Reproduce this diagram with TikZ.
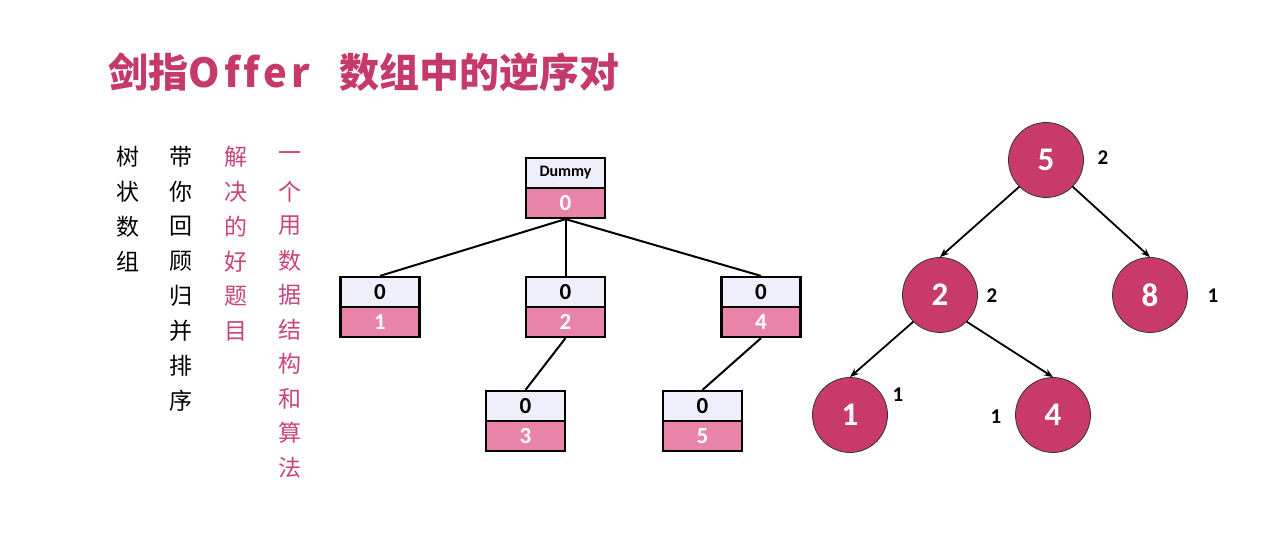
\documentclass[tikz,border=0pt]{standalone}
\usepackage{fontspec}
\setmainfont{Carlito}
\newfontfamily\cjk{Noto Sans CJK SC}
\newfontfamily\cjkspaced[LetterSpace=10,Ligatures={NoCommon,NoRequired}]{Noto Sans CJK SC}
\usetikzlibrary{arrows.meta}
\definecolor{titlepink}{HTML}{C63A6B}
\definecolor{colpink}{HTML}{C9447A}
\definecolor{boxtop}{HTML}{EFEEFB}
\definecolor{boxbot}{HTML}{E984A9}
\definecolor{circfill}{HTML}{C83A6A}
\tikzset{
  topcell/.style={draw=black, line width=2.2pt, fill=boxtop, minimum width=79pt, minimum height=30pt, inner sep=0pt, font=\fontsize{23}{25}\selectfont\bfseries},
  botcell/.style={draw=black, line width=2.2pt, fill=boxbot, minimum width=79pt, minimum height=30pt, inner sep=0pt, text=white, font=\fontsize{23}{25}\selectfont\bfseries},
  edge/.style={line width=2pt, black},
  circ/.style={circle, draw=black!80, line width=0.8pt, fill=circfill, minimum size=75pt, inner sep=0pt, text=white, font=\fontsize{33}{35}\selectfont\bfseries},
  arr/.style={line width=1.8pt, -{Stealth[length=9pt,width=7pt]}},
  lbl/.style={font=\fontsize{21}{23}\selectfont\bfseries, text=black},
  vchar/.style={font=\cjk\fontsize{23}{25}\selectfont, inner sep=0pt}
}
\begin{document}
\begin{tikzpicture}[x=1pt,y=-1pt]
\useasboundingbox[fill=white] (0,0) rectangle (1280,545);
% title
\node[anchor=west, text=titlepink, font=\cjk\fontsize{40}{44}\selectfont\bfseries, inner sep=0pt] (t1) at (108,72) {剑指};
\node[anchor=west, text=titlepink, font=\cjkspaced\fontsize{40}{44}\selectfont\bfseries, inner sep=0pt] (t2) at (t1.east) {Offer};
\node[anchor=west, text=titlepink, font=\cjk\fontsize{40}{44}\selectfont\bfseries, inner sep=0pt] (t3) at (339,72) {数组中的逆序对};
% vertical columns
\foreach \c [count=\i] in {树,状,数,组}
  \node[vchar] (a\i) at (128,157+34.8*\i-34.8) {\c};
\foreach \c [count=\i] in {带,你,回,顾,归,并,排,序}
  \node[vchar] (b\i) at (181,157+34.8*\i-34.8) {\c};
\foreach \c [count=\i] in {解,决,的,好,题,目}
  \node[vchar, text=colpink] (c\i) at (236,157+34.8*\i-34.8) {\c};
\foreach \c [count=\i] in {一,个,用,数,据,结,构,和,算,法}
  \node[vchar, text=colpink] (d\i) at (290,157+34.5*\i-34.5) {\c};
% boxes
\node[topcell, font=\fontsize{16}{18}\selectfont\bfseries] (dT) at (565.5,173) {Dummy};
\node[botcell] (dB) at (565.5,203) {0};
\node[topcell] (aT) at (380,292) {0};
\node[botcell] (aB) at (380,322) {1};
\node[topcell] (bT) at (565.5,292) {0};
\node[botcell] (bB) at (565.5,322) {2};
\node[topcell] (eT) at (761,292) {0};
\node[botcell] (eB) at (761,322) {4};
\node[topcell] (cT) at (525.5,406) {0};
\node[botcell] (cB) at (525.5,436) {3};
\node[topcell] (fT) at (702.5,406) {0};
\node[botcell] (fB) at (702.5,436) {5};
\draw[edge] (dB.south) -- (aT.north);
\draw[edge] (dB.south) -- (bT.north);
\draw[edge] (dB.south) -- (eT.north);
\draw[edge] (bB.south) -- (cT.north);
\draw[edge] (eB.south) -- (fT.north);
% circles
\node[circ] (n5) at (1046,160) {5};
\node[circ] (n2) at (940,295) {2};
\node[circ] (n8) at (1150,295) {8};
\node[circ] (n1) at (850,415) {1};
\node[circ] (n4) at (1053,415) {4};
\draw[arr] (n5.225) -- (n2.north);
\draw[arr] (n5.-45) -- (n8.north);
\draw[arr] (n2.225) -- (n1.north);
\draw[arr] (n2.-45) -- (n4.north);
\node[lbl] (l5) at (1103,158) {2};
\node[lbl] (l2) at (992,296) {2};
\node[lbl] (l8) at (1213,296) {1};
\node[lbl] (l1) at (898,395) {1};
\node[lbl] (l4) at (996,417) {1};
\end{tikzpicture}
\end{document}
